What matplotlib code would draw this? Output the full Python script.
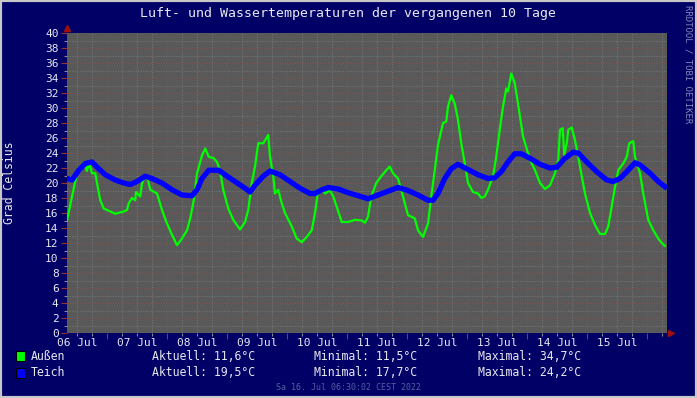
import matplotlib
matplotlib.use('Agg')
from matplotlib import pyplot as plt
from matplotlib.patches import Rectangle
from matplotlib.transforms import blended_transform_factory

# hours since 06 Jul 08:00 and temperatures (deg C)
aussen_h = [0, 2, 4, 5.2, 6.7, 8, 8.8, 10, 11.3, 12, 13.3, 14.7, 19.3, 22.7, 24, 24.7, 26, 27.3, 27.6, 29.3,
            30, 31.3, 32.4, 33.3, 36, 38, 40, 42, 44, 46, 48, 49.3, 50.7, 52, 53.3, 54, 55.3, 56.7, 58.7, 60,
            61.3, 62.5, 64.5, 66.5, 69.2, 71.2, 72.5, 73.9, 75.2, 76.5, 78.5, 80.5, 81.2, 82.5, 83.2, 84.5,
            85.9, 87.2, 89.9, 91.9, 93.9, 95.9, 97.9, 99.2, 100.5, 101.9, 103.2, 105.2, 106.5, 108.5, 109.9,
            112.5, 115.2, 117.9, 119.2, 120.4, 121.7, 123.7, 125.7, 127.7, 129.1, 130.4, 132.4, 134.4, 136.4,
            139.1, 140.4, 142.4, 144.4, 145.7, 147.1, 148.4, 150.4, 151.7, 152.4, 153.7, 155.1, 156.4, 157.7,
            159.1, 160.4, 162.4, 164.4, 165.7, 167.1, 168.4, 170.4, 171.7, 173.1, 174.4, 175.7, 176.4, 177.7,
            179.1, 180.4, 181.2, 182.4, 183.2, 185.2, 187.2, 189.2, 191.2, 193.2, 195.2, 196.5, 197.2, 198.3,
            198.9, 199.9, 200.5, 201.9, 203.2, 204.5, 205.9, 207.2, 209.2, 211.2, 213.2, 215.2, 216.5, 217.9,
            219.2, 220.5, 222.5, 223.9, 224.9, 226.5, 227.2, 229.2, 230.5, 232.5, 234.5, 236.5, 237.9, 239.2]
aussen_t = [15.0, 18.2, 21.3, 22.1, 22.7, 21.6, 22.8, 21.3, 21.3, 20.0, 17.7, 16.6, 15.9, 16.2, 16.4, 17.3,
            18.0, 17.7, 18.8, 18.2, 20.0, 20.9, 20.4, 19.1, 18.6, 16.4, 14.6, 13.1, 11.7, 12.6, 13.7, 15.3,
            17.7, 21.3, 22.8, 23.7, 24.6, 23.5, 23.3, 22.8, 21.5, 19.1, 16.6, 15.1, 13.8, 14.8, 16.4, 20.0,
            22.2, 25.3, 25.3, 26.4, 23.5, 20.9, 18.6, 19.1, 17.3, 16.0, 14.2, 12.6, 12.1, 12.8, 13.7, 16.0,
            19.1, 19.3, 18.6, 19.0, 18.2, 16.2, 14.8, 14.8, 15.1, 15.0, 14.7, 15.5, 18.2, 20.0, 20.9, 21.7,
            22.2, 21.3, 20.6, 18.2, 15.7, 15.3, 13.7, 12.8, 14.6, 18.2, 21.7, 25.1, 28.0, 28.2, 30.2, 31.7,
            30.6, 28.4, 25.3, 22.6, 20.0, 18.8, 18.6, 18.0, 18.2, 19.1, 20.9, 23.5, 27.1, 30.2, 32.6, 32.2,
            34.6, 33.3, 30.6, 28.8, 26.2, 25.3, 23.1, 21.7, 20.0, 19.2, 19.7, 21.3, 23.1, 27.1, 27.3, 23.7,
            25.3, 27.1, 27.4, 25.7, 23.5, 20.9, 18.6, 16.0, 14.4, 13.2, 13.2, 14.2, 16.9, 19.5, 21.7, 22.6,
            23.5, 25.3, 25.6, 23.5, 21.3, 18.6, 15.1, 13.7, 12.6, 12.0, 11.6]

teich_h = [0, 2, 4.7, 7.3, 10, 12.7, 15.3, 19.3, 22.7, 25.3, 28, 31.3, 34, 38, 42, 46, 50, 52, 54, 56.7,
           60.7, 63.2, 67.2, 71.2, 73.2, 75.2, 78.5, 81.2, 85.2, 89.2, 93.2, 97.2, 99.2, 101.9, 104.5, 108.5,
           112.5, 116.5, 120.4, 124.4, 128.4, 132.4, 136.4, 140.4, 144.4, 146.4, 148.4, 151.1, 153.7, 156.4,
           160.4, 164.4, 168.4, 171.1, 173.7, 176.4, 179.1, 181.7, 185.2, 189.2, 193.2, 195.9, 199.2, 202.5,
           204.5, 207.9, 211.9, 215.9, 218.5, 221.2, 223.9, 227.2, 229.2, 233.2, 236.5, 239.2]
teich_t = [20.6, 20.4, 21.7, 22.6, 22.8, 21.9, 21.1, 20.4, 20.0, 19.8, 20.2, 20.9, 20.6, 20.0, 19.1, 18.4,
           18.3, 19.1, 20.6, 21.7, 21.7, 21.1, 20.2, 19.3, 18.8, 19.7, 20.9, 21.6, 21.1, 20.2, 19.3, 18.6,
           18.6, 19.1, 19.4, 19.2, 18.7, 18.3, 17.9, 18.4, 18.9, 19.4, 19.0, 18.4, 17.7, 17.7, 18.6, 20.6,
           21.9, 22.5, 21.8, 21.1, 20.6, 20.7, 21.5, 22.8, 23.9, 23.9, 23.3, 22.5, 22.0, 22.1, 23.3, 24.1,
           24.0, 22.8, 21.5, 20.4, 20.2, 20.6, 21.5, 22.7, 22.4, 21.3, 20.2, 19.5]

day_labels = ['06 Jul', '07 Jul', '08 Jul', '09 Jul', '10 Jul', '11 Jul', '12 Jul', '13 Jul', '14 Jul', '15 Jul']
legend_rows = [
    ('Außen', '#00ff00', 'Aktuell: 11,6°C', 'Minimal: 11,5°C', 'Maximal: 34,7°C'),
    ('Teich', '#0000ff', 'Aktuell: 19,5°C', 'Minimal: 17,7°C', 'Maximal: 24,2°C'),
]

W, H = 697, 398
BG = '#000066'
TXT = '#e8e8f0'
MONO = 'DejaVu Sans Mono'
RED_GRID = '#8a4e4e'
GREY_GRID = '#787878'

def fx(x):
    return x / W

def fy(y):
    return 1 - y / H

fig = plt.figure(figsize=(W / 100, H / 100), dpi=100, facecolor=BG)

# frame around the canvas
fig.patches.append(Rectangle((0, 0), 1, 1, transform=fig.transFigure, fill=False,
                             edgecolor='#c8c8c8', linewidth=3, zorder=0))

ax = fig.add_axes([fx(67), fy(333), fx(600), 300 / H])
ax.set_facecolor('#595959')
ax.set_xlim(0, 240)
ax.set_ylim(0, 40)
for s in ax.spines.values():
    s.set_visible(False)

# grid: red every day / 2 degrees, grey every 6 h / 1 degree
for h in range(4, 240, 6):
    major = (h - 16) % 24 == 0
    ax.axvline(h, color=RED_GRID if major else GREY_GRID, lw=0.7, ls=(0, (1, 1.6)), zorder=1)
for v in range(1, 40):
    major = v % 2 == 0
    ax.axhline(v, color=RED_GRID if major else GREY_GRID, lw=0.7, ls=(0, (1, 1.6)), zorder=1)

ax.set_yticks(range(0, 41, 2))
ax.set_yticklabels([str(v) for v in range(0, 41, 2)], fontsize=8, family=MONO, color=TXT)
ax.set_yticks(range(0, 41), minor=True)
ax.set_xticks(range(16, 240, 24))
ax.set_xticks(range(4, 240, 6), minor=True)
ax.set_xticklabels([])
ax.tick_params(axis='both', which='major', color='#a03030', length=4, width=0.8, pad=2)
ax.tick_params(axis='both', which='minor', color='#8a8a8a', length=2, width=0.8)

tr = blended_transform_factory(ax.transData, ax.transAxes)
for i, lab in enumerate(day_labels):
    ax.text(4 + 24 * i, -0.015, lab, transform=tr, ha='center', va='top',
            fontsize=8, family=MONO, color=TXT)

ax.plot(aussen_h, aussen_t, color='#00ff00', lw=1.6, zorder=3)
ax.plot(teich_h, teich_t, color='#0000ff', lw=3.8, zorder=4)

# axis arrows
ax.plot([0], [1.018], marker='^', ms=5, color='#a01010', transform=ax.transAxes, clip_on=False)
ax.plot([1.006], [0], marker='>', ms=5, color='#a01010', transform=ax.transAxes, clip_on=False)

fig.text(fx(348), fy(14), 'Luft- und Wassertemperaturen der vergangenen 10 Tage',
         ha='center', va='center', fontsize=9.5, family=MONO, color=TXT)
fig.text(fx(10), fy(183), 'Grad Celsius', rotation=90, ha='center', va='center',
         fontsize=8.3, family=MONO, color=TXT)
fig.text(fx(688), fy(5), 'RRDTOOL / TOBI OETIKER', rotation=270, ha='center', va='top',
         fontsize=6.5, family=MONO, color='#8888bb')

for r, (name, col, akt, mn, mx) in enumerate(legend_rows):
    y = 356 + 17 * r
    fig.patches.append(Rectangle((fx(16), fy(y + 5)), fx(9), 10 / H, transform=fig.transFigure,
                                 facecolor=col, edgecolor='black', linewidth=0.8))
    fig.text(fx(31), fy(y), name, ha='left', va='center', fontsize=8.3, family=MONO, color=TXT)
    fig.text(fx(152), fy(y), akt, ha='left', va='center', fontsize=8.3, family=MONO, color=TXT)
    fig.text(fx(314), fy(y), mn, ha='left', va='center', fontsize=8.3, family=MONO, color=TXT)
    fig.text(fx(478), fy(y), mx, ha='left', va='center', fontsize=8.3, family=MONO, color=TXT)

fig.text(fx(348), fy(387), 'Sa 16. Jul 06:30:02 CEST 2022', ha='center', va='center',
         fontsize=6, family=MONO, color='#5560a0')

fig.savefig('out.png', dpi=100, facecolor=BG)
